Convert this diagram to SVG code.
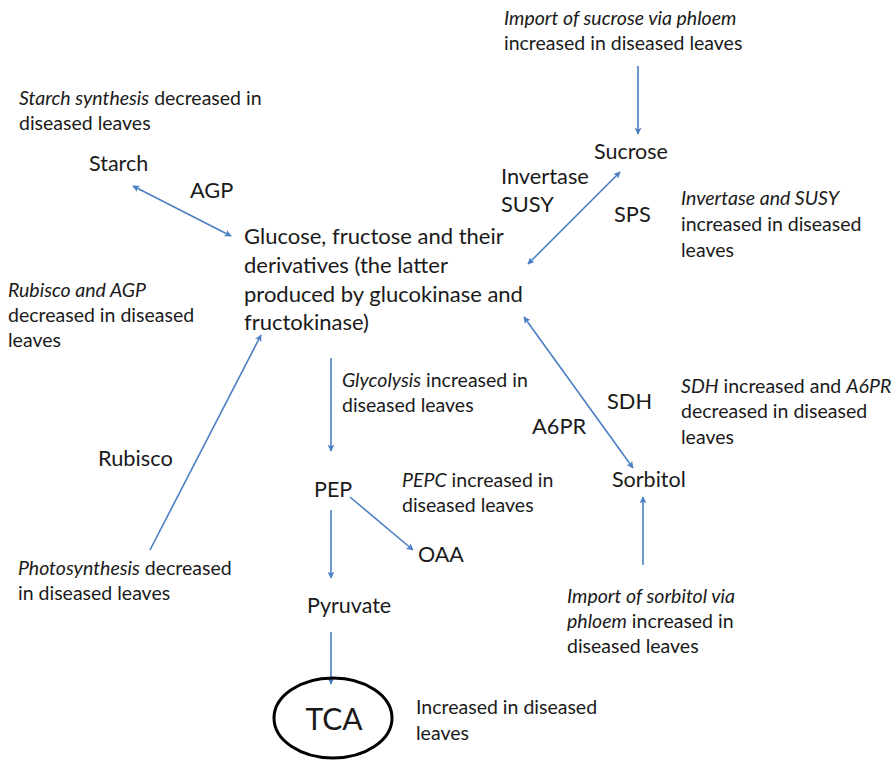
<svg xmlns="http://www.w3.org/2000/svg" width="896" height="767" viewBox="0 0 896 767">
  <style>
    text { font-family: Lato, "Open Sans", "Liberation Sans", sans-serif; fill: #1a1a1a; }
    .note { font-size: 19.5px; }
    .node { font-size: 21.5px; }
    .enz { font-size: 21.8px; }
    .main { font-size: 22px; }
    .em { font-style: italic; }
    .link { stroke: #4a7fc4; stroke-width: 1.6; fill: none; }
  </style>
  <defs>
    <marker id="head" viewBox="0 0 10 10" refX="9" refY="5" markerWidth="7" markerHeight="7" orient="auto-start-reverse" markerUnits="userSpaceOnUse">
      <path d="M0,0 L10,5 L0,10 L2.5,5 Z" fill="#4a7fc4"/>
    </marker>
  </defs>
  <rect width="896" height="767" fill="#ffffff"/>

  <g id="connectors">
    <line class="link" x1="638" y1="66" x2="638" y2="134" marker-end="url(#head)"/>
    <line class="link" x1="133" y1="186" x2="231" y2="236" marker-start="url(#head)" marker-end="url(#head)"/>
    <line class="link" x1="528" y1="264" x2="620" y2="172" marker-start="url(#head)" marker-end="url(#head)"/>
    <line class="link" x1="331" y1="358" x2="331" y2="451" marker-end="url(#head)"/>
    <line class="link" x1="524" y1="317" x2="633" y2="468" marker-start="url(#head)" marker-end="url(#head)"/>
    <line class="link" x1="150" y1="550" x2="261" y2="335" marker-end="url(#head)"/>
    <line class="link" x1="350" y1="497" x2="413" y2="550" marker-end="url(#head)"/>
    <line class="link" x1="331" y1="510" x2="331" y2="578" marker-end="url(#head)"/>
    <line class="link" x1="643" y1="565" x2="643" y2="497" marker-end="url(#head)"/>
    <line class="link" x1="331" y1="632" x2="331" y2="684" marker-end="url(#head)"/>
  </g>

  <g id="sucrose-import">
    <text class="note" x="504" y="25"><tspan class="em">Import of sucrose via phloem</tspan></text>
    <text class="note" x="504" y="50">increased in diseased leaves</text>
  </g>
  <g id="sucrose"><text class="node" x="594" y="159">Sucrose</text></g>
  <g id="starch-note">
    <text class="note" x="19" y="105"><tspan class="em">Starch synthesis</tspan> decreased in</text>
    <text class="note" x="19" y="130">diseased leaves</text>
  </g>
  <g id="starch"><text class="node" x="89" y="171">Starch</text></g>
  <g id="agp"><text class="enz" x="190" y="198">AGP</text></g>
  <g id="invertase-susy">
    <text class="enz" x="501" y="184">Invertase</text>
    <text class="enz" x="501" y="212">SUSY</text>
  </g>
  <g id="sps"><text class="enz" x="614" y="222">SPS</text></g>
  <g id="invertase-note">
    <text class="note" x="681" y="205"><tspan class="em">Invertase and SUSY</tspan></text>
    <text class="note" x="681" y="231">increased in diseased</text>
    <text class="note" x="681" y="257">leaves</text>
  </g>
  <g id="hexoses">
    <text class="main" x="244" y="244">Glucose, fructose and their</text>
    <text class="main" x="244" y="273">derivatives (the latter</text>
    <text class="main" x="244" y="302">produced by glucokinase and</text>
    <text class="main" x="244" y="330">fructokinase)</text>
  </g>
  <g id="rubisco-agp-note">
    <text class="note" x="8" y="297"><tspan class="em">Rubisco and AGP</tspan></text>
    <text class="note" x="8" y="322">decreased in diseased</text>
    <text class="note" x="8" y="347">leaves</text>
  </g>
  <g id="glycolysis-note">
    <text class="note" x="342" y="387"><tspan class="em">Glycolysis</tspan> increased in</text>
    <text class="note" x="342" y="412">diseased leaves</text>
  </g>
  <g id="sdh"><text class="enz" x="607" y="409">SDH</text></g>
  <g id="a6pr"><text class="enz" x="532" y="434">A6PR</text></g>
  <g id="sdh-note">
    <text class="note" x="681" y="393"><tspan class="em">SDH</tspan> increased and <tspan class="em">A6PR</tspan></text>
    <text class="note" x="681" y="418">decreased in diseased</text>
    <text class="note" x="681" y="444">leaves</text>
  </g>
  <g id="rubisco"><text class="enz" x="98" y="466">Rubisco</text></g>
  <g id="pep"><text class="node" x="314" y="497">PEP</text></g>
  <g id="pepc-note">
    <text class="note" x="402" y="487"><tspan class="em">PEPC</tspan> increased in</text>
    <text class="note" x="402" y="512">diseased leaves</text>
  </g>
  <g id="sorbitol"><text class="node" x="612" y="487">Sorbitol</text></g>
  <g id="oaa"><text class="node" x="418" y="562">OAA</text></g>
  <g id="photosynthesis-note">
    <text class="note" x="18" y="575"><tspan class="em">Photosynthesis</tspan> decreased</text>
    <text class="note" x="18" y="600">in diseased leaves</text>
  </g>
  <g id="pyruvate"><text class="node" x="307" y="613">Pyruvate</text></g>
  <g id="sorbitol-import">
    <text class="note" x="567" y="603"><tspan class="em">Import of sorbitol via</tspan></text>
    <text class="note" x="567" y="628"><tspan class="em">phloem</tspan> increased in</text>
    <text class="note" x="567" y="653">diseased leaves</text>
  </g>
  <g id="tca">
    <ellipse cx="333" cy="718" rx="59" ry="40" fill="none" stroke="#000" stroke-width="3"/>
    <text x="334" y="730" text-anchor="middle" style="font-size:30px">TCA</text>
  </g>
  <g id="tca-note">
    <text class="note" x="416" y="714">Increased in diseased</text>
    <text class="note" x="416" y="740">leaves</text>
  </g>
</svg>
